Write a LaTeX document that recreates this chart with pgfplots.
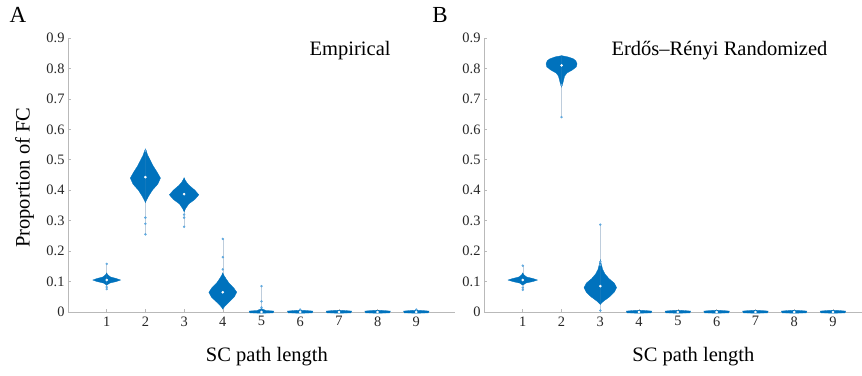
\documentclass[border=0pt]{standalone}
\usepackage{fontspec}
\setmainfont{Liberation Serif}
\usepackage{pgfplots}
\usepackage{pgfplotstable}
\pgfplotsset{compat=1.18}
\definecolor{vblue}{RGB}{0,114,189}
\definecolor{oblue}{RGB}{95,168,222}
\definecolor{wgray}{RGB}{190,205,220}
\definecolor{axgray}{RGB}{185,185,185}

\pgfplotstableread{
y w
0.088 0
0.095 0.08
0.100 0.25
0.105 0.36
0.110 0.25
0.115 0.10
0.122 0.03
0.128 0
}\tAone
\pgfplotstableread{
y w
0.360 0
0.370 0.04
0.380 0.08
0.400 0.18
0.420 0.32
0.440 0.39
0.460 0.30
0.480 0.20
0.500 0.12
0.515 0.06
0.530 0.02
0.535 0
}\tAtwo
\pgfplotstableread{
y w
0.330 0
0.340 0.04
0.355 0.12
0.370 0.28
0.385 0.38
0.400 0.28
0.415 0.14
0.425 0.07
0.435 0.02
0.440 0
}\tAthree
\pgfplotstableread{
y w
0.010 0
0.020 0.06
0.035 0.18
0.050 0.30
0.065 0.36
0.080 0.28
0.095 0.16
0.110 0.08
0.120 0.03
0.128 0
}\tAfour
\pgfplotstableread{
y w
-0.004 0
-0.003 0.30
0.003 0.32
0.005 0.12
0.009 0.03
0.012 0
}\tAfive
\pgfplotstableread{
y w
-0.004 0
-0.003 0.31
0.003 0.33
0.005 0.15
0.006 0
}\tFlat
\pgfplotstableread{
y w
0.088 0
0.095 0.08
0.100 0.26
0.105 0.38
0.110 0.26
0.115 0.10
0.122 0.03
0.128 0
}\tBone
\pgfplotstableread{
y w
0.740 0
0.750 0.03
0.760 0.05
0.775 0.08
0.785 0.14
0.795 0.28
0.805 0.38
0.815 0.40
0.825 0.37
0.832 0.30
0.838 0.16
0.842 0
}\tBtwo
\pgfplotstableread{
y w
0.025 0
0.035 0.08
0.050 0.24
0.065 0.36
0.080 0.42
0.095 0.36
0.110 0.22
0.125 0.12
0.140 0.06
0.160 0.02
0.170 0
}\tBthree

\newcommand{\violin}[2]{%
  \addplot[draw=vblue, fill=vblue, line width=0.3pt] table[x expr=#2+\thisrow{w}, y=y] {#1} -- cycle;
  \addplot[draw=vblue, fill=vblue, line width=0.3pt] table[x expr=#2-\thisrow{w}, y=y] {#1} -- cycle;
}

\pgfplotsset{myax/.style={
  scale only axis, height=274pt, ymin=0, ymax=0.9, xmin=0,
  axis lines*=left, axis line style={axgray, line width=0.6pt},
  tick style={axgray, line width=0.6pt}, major tick length=3pt, tick align=inside,
  xtick={1,2,3,4,5,6,7,8,9},
  ytick={0,0.1,0.2,0.3,0.4,0.5,0.6,0.7,0.8,0.9},
  yticklabels={0,0.1,0.2,0.3,0.4,0.5,0.6,0.7,0.8,0.9},
  /pgf/number format/assume math mode=true,
  ticklabel style={font=\fontsize{14.4}{16}\selectfont, text=black!85},
  xticklabel style={yshift=-1pt},
  clip=false,
  xlabel={SC path length},
  label style={font=\fontsize{20.5}{22}\selectfont},
}}

\begin{document}
\begin{tikzpicture}[x=1pt,y=1pt]
\path[use as bounding box] (0,0) rectangle (862,375);
\node[font=\fontsize{23}{24}\selectfont] at (18,360) {A};
\node[font=\fontsize{23}{24}\selectfont] at (440,360) {B};

\begin{axis}[myax, at={(68pt,63pt)}, anchor=south west, width=387pt, xmax=10,
  ylabel={Proportion of FC},
  ylabel style={at={(axis description cs:-0.112,0.49)}, anchor=center, rotate=0},
  xlabel style={at={(axis description cs:0.514,-0.164)}, anchor=center}]
  % whiskers
  \addplot[wgray, line width=0.5pt] coordinates {(1,0.075) (1,0.158)};
  \addplot[wgray, line width=0.5pt] coordinates {(2,0.255) (2,0.530)};
  \addplot[wgray, line width=0.5pt] coordinates {(3,0.280) (3,0.435)};
  \addplot[wgray, line width=0.5pt] coordinates {(4,0.010) (4,0.240)};
  \addplot[wgray, line width=0.5pt] coordinates {(5,0.000) (5,0.085)};
  \violin{\tAone}{1}
  \violin{\tAtwo}{2}
  \violin{\tAthree}{3}
  \violin{\tAfour}{4}
  \violin{\tAfive}{5}
  \violin{\tFlat}{6}
  \violin{\tFlat}{7}
  \violin{\tFlat}{8}
  \violin{\tFlat}{9}
  % outliers
  \addplot[only marks, mark=*, mark size=1pt, oblue] coordinates {
    (1,0.075) (1,0.158) (1,0.082)
    (2,0.255) (2,0.290) (2,0.310) (2,0.530)
    (3,0.280) (3,0.310) (3,0.320)
    (4,0.240) (4,0.180) (4,0.140)
    (5,0.085) (5,0.035) (5,0.015)
    (6,0.008) (9,0.008)};
  % medians
  \addplot[only marks, mark=*, mark size=1.1pt, white] coordinates {
    (1,0.105) (2,0.443) (3,0.387) (4,0.065) (5,0) (6,0) (7,0) (8,0) (9,0)};
  \node[font=\fontsize{20.5}{22}\selectfont] at (axis description cs:0.729,0.955) {Empirical};
\end{axis}

\begin{axis}[myax, at={(484pt,63pt)}, anchor=south west, width=378pt, xmax=9.75,
  xlabel style={at={(axis description cs:0.554,-0.164)}, anchor=center}]
  \addplot[wgray, line width=0.5pt] coordinates {(1,0.073) (1,0.152)};
  \addplot[wgray, line width=0.5pt] coordinates {(2,0.640) (2,0.840)};
  \addplot[wgray, line width=0.5pt] coordinates {(3,0.005) (3,0.287)};
  \violin{\tBone}{1}
  \violin{\tBtwo}{2}
  \violin{\tBthree}{3}
  \violin{\tFlat}{4}
  \violin{\tFlat}{5}
  \violin{\tFlat}{6}
  \violin{\tFlat}{7}
  \violin{\tFlat}{8}
  \violin{\tFlat}{9}
  \addplot[only marks, mark=*, mark size=1pt, oblue] coordinates {
    (1,0.073) (1,0.152) (1,0.080)
    (2,0.640) (2,0.745)
    (3,0.005) (3,0.287) (3,0.165) (3,0.155)};
  \addplot[only marks, mark=*, mark size=1.1pt, white] coordinates {
    (1,0.105) (2,0.810) (3,0.085) (4,0) (5,0) (6,0) (7,0) (8,0) (9,0)};
  \node[font=\fontsize{20.5}{22}\selectfont] at (axis description cs:0.623,0.955) {Erdős–Rényi Randomized};
\end{axis}
\end{tikzpicture}
\end{document}
